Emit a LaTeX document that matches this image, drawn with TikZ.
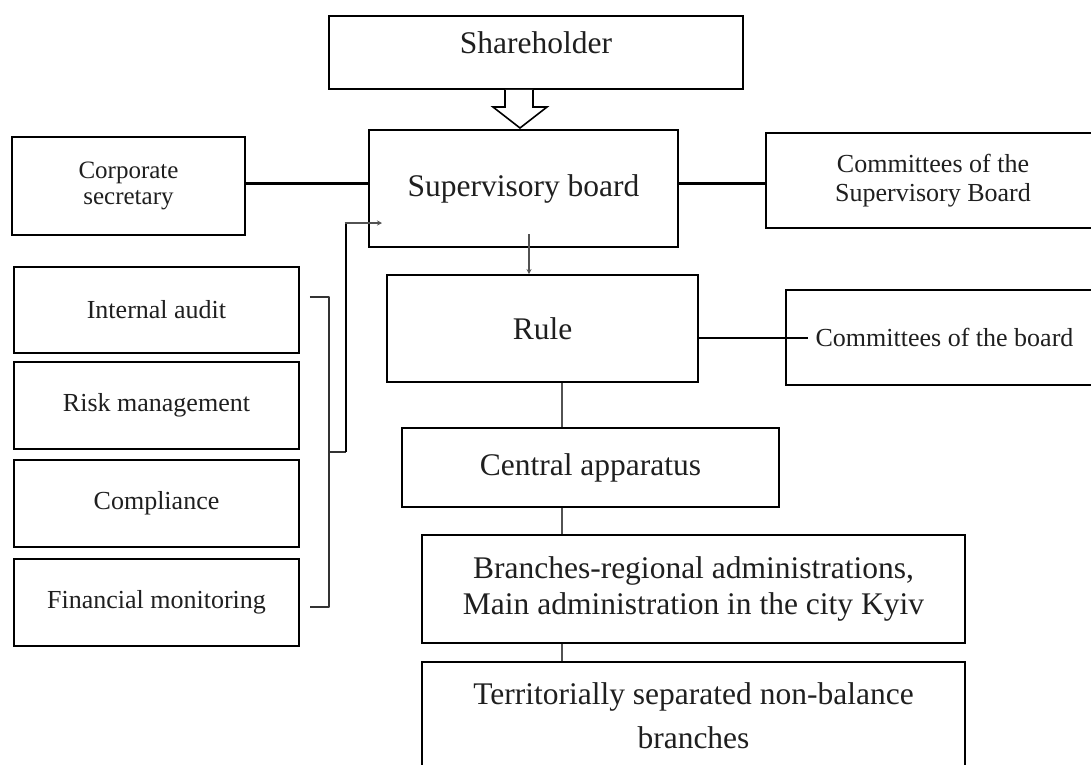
\documentclass[tikz,border=0pt]{standalone}
\usepackage{fontspec}
\setmainfont{Liberation Serif}
\usetikzlibrary{arrows.meta}
\begin{document}
\begin{tikzpicture}[x=1pt,y=-1pt,
  box/.style={draw=black, line width=1.9pt, fill=white, inner sep=0pt, align=center, text=black!88},
  big/.style={font=\fontsize{31.5}{36}\selectfont},
  small/.style={font=\fontsize{26}{29}\selectfont},
  conn/.style={draw=black!68, line width=2pt},
  hline/.style={draw=black, line width=2.3pt},
  brk/.style={draw=black!80, line width=1.5pt},
  tip/.style={-{Stealth[length=5pt,width=5pt]}}]
\useasboundingbox (0,0) rectangle (1091,764);
\clip (0,0) rectangle (1091,764);
\fill[white] (0,0) rectangle (1091,764);

% boxes
\node[box, big, minimum width=414pt, minimum height=73pt, text height=22pt, text depth=21pt] (sh) at (536,52.5) {Shareholder};
\node[box, big, minimum width=309pt, minimum height=117pt] (sb) at (523.5,188.5) {Supervisory board};
\node[box, font=\fontsize{25}{25.5}\selectfont, minimum width=233pt, minimum height=98pt] (cs) at (128.5,186) {Corporate\\secretary};
\node[box, small, minimum width=334pt, minimum height=95pt] (csb) at (933,180.5) {Committees of the\\Supervisory Board};
\node[box, small, minimum width=285pt, minimum height=86pt] (ia) at (156.5,310) {Internal audit};
\node[box, small, minimum width=285pt, minimum height=87pt] (rm) at (156.5,405.5) {Risk management};
\node[box, small, minimum width=285pt, minimum height=87pt] (co) at (156.5,503.5) {Compliance};
\node[box, small, minimum width=285pt, minimum height=87pt] (fm) at (156.5,602.5) {Financial monitoring};
\node[box, big, minimum width=311pt, minimum height=107pt] (rule) at (542.5,328.5) {Rule};
\node[box, small, minimum width=317pt, minimum height=95pt] (cob) at (944.5,337.5) {Committees of the board};
\node[box, big, minimum width=377pt, minimum height=79pt] (ca) at (590.5,467.5) {Central apparatus};
\node[box, big, minimum width=543pt, minimum height=108pt] (br) at (693.5,589) {Branches-regional administrations,\\Main administration in the city Kyiv};
\node[box, font=\fontsize{31.5}{44}\selectfont, minimum width=543pt, minimum height=108pt] (tr) at (693.5,716) {Territorially separated non-balance\\branches};

% block arrow Shareholder -> Supervisory board
\coordinate (bt) at (520,128);
\draw[line width=1.6pt, fill=white, line join=miter]
  (sh.south -| 505,0) -- (505,107) -- (493,107) -- (bt) -- (547,107) -- (533,107) -- (sh.south -| 533,0);

% horizontal links of the supervisory board
\coordinate (ysb) at (0,183.5);
\draw[hline] (cs.east |- ysb) -- (sb.west |- ysb);
\draw[hline] (sb.east |- ysb) -- (csb.west |- ysb);

% Rule -> committees of the board
\coordinate (cobin) at (808,338);
\draw[hline] (rule.east |- cobin) -- (cobin);

% supervisory board -> rule
\coordinate (sbout) at (529,234);
\draw[conn, line width=1.7pt, tip] (sbout) -- (sbout |- rule.north);

% vertical chain
\coordinate (vx) at (562,0);
\draw[conn] (vx |- rule.south) -- (vx |- ca.north);
\draw[conn] (vx |- ca.south) -- (vx |- br.north);
\draw[conn] (vx |- br.south) -- (vx |- tr.north);

% bracket of the control functions
\coordinate (bx) at (329,0);
\coordinate (bm) at (329,452);
\coordinate (bj) at (346,452);
\coordinate (sbin) at (382,223);
\draw[brk, line join=round] ([xshift=10pt]ia.east |- 0,297) -- (bx |- 0,297) -- (bx |- 0,607) -- ([xshift=10pt]fm.east |- 0,607);
\draw[brk] (bm) -- (bj);
\draw[draw=black, line width=2.8pt] (bj) -- (bj |- sbin);
\draw[conn, line width=1.7pt, tip] ([xshift=-1.4pt]bj |- sbin) -- (sbin);
\end{tikzpicture}
\end{document}
